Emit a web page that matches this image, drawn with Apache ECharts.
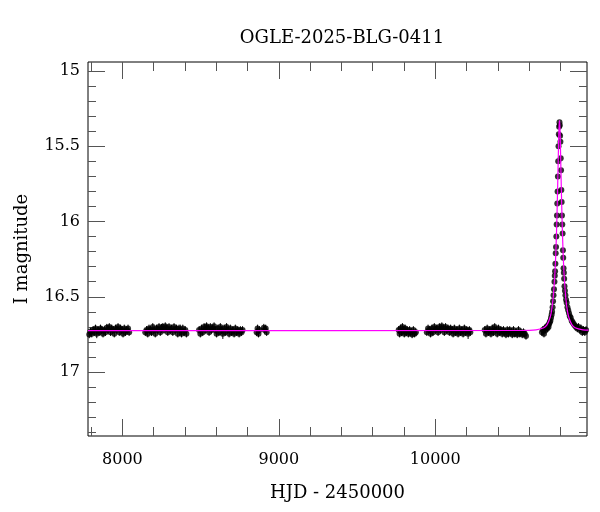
<!DOCTYPE html>
<html>
<head>
<meta charset="utf-8">
<script src="https://cdn.jsdelivr.net/npm/echarts@6/dist/echarts.min.js"></script>
<style>html,body{margin:0;padding:0;background:#fff}#c{width:600px;height:512px}</style>
</head>
<body>
<div id="c"></div>
<script>
// ---- data: [HJD-2450000, I mag, error] ----
const season1 = [[7788,16.75,.025],[7796,16.73,.025],[7804,16.745,.025],[7812,16.72,.025],[7820,16.735,.025],[7828,16.71,.025],[7836,16.745,.03],[7844,16.72,.025],[7852,16.735,.025],[7860,16.71,.025],[7868,16.72,.025],[7876,16.745,.025],[7884,16.72,.025],[7892,16.735,.025],[7900,16.705,.025],[7908,16.72,.025],[7916,16.70,.025],[7924,16.735,.025],[7932,16.71,.025],[7940,16.72,.025],[7948,16.745,.025],[7956,16.71,.025],[7964,16.72,.025],[7972,16.70,.025],[7980,16.735,.025],[7988,16.71,.025],[7996,16.72,.025],[8004,16.745,.025],[8012,16.71,.025],[8020,16.735,.025],[8028,16.72,.025],[8036,16.71,.025],[8043,16.735,.025]];
const season2 = [[8146,16.735,.025],[8154,16.72,.025],[8162,16.745,.025],[8170,16.71,.025],[8178,16.72,.025],[8186,16.735,.025],[8194,16.70,.025],[8202,16.72,.025],[8210,16.745,.025],[8218,16.71,.025],[8226,16.72,.025],[8234,16.70,.025],[8242,16.735,.025],[8250,16.71,.03],[8258,16.70,.025],[8266,16.72,.025],[8274,16.695,.025],[8282,16.71,.025],[8290,16.735,.025],[8298,16.70,.025],[8306,16.72,.025],[8314,16.71,.025],[8322,16.735,.025],[8330,16.70,.025],[8338,16.72,.025],[8346,16.71,.025],[8354,16.745,.025],[8362,16.71,.025],[8370,16.72,.035],[8378,16.745,.025],[8386,16.71,.025],[8394,16.735,.025],[8402,16.72,.025],[8409,16.745,.025]];
const season3 = [[8490,16.72,.025],[8498,16.745,.025],[8506,16.71,.025],[8514,16.735,.025],[8522,16.70,.025],[8530,16.72,.025],[8538,16.695,.025],[8546,16.71,.025],[8554,16.735,.025],[8562,16.70,.025],[8570,16.72,.025],[8578,16.71,.025],[8586,16.695,.025],[8594,16.72,.025],[8602,16.745,.025],[8610,16.71,.025],[8618,16.735,.025],[8626,16.70,.025],[8634,16.72,.025],[8642,16.745,.035],[8650,16.71,.025],[8658,16.735,.025],[8666,16.70,.025],[8674,16.72,.025],[8682,16.745,.025],[8690,16.71,.025],[8698,16.735,.025],[8706,16.72,.025],[8714,16.745,.025],[8722,16.71,.025],[8730,16.735,.025],[8738,16.72,.025],[8746,16.745,.025],[8754,16.72,.025],[8762,16.735,.025],[8768,16.72,.025]];
const season4 = [[8858,16.735,.025],[8864,16.71,.025],[8870,16.745,.025],[8876,16.72,.025],[8904,16.705,.025],[8910,16.72,.025],[8916,16.71,.025],[8922,16.735,.025]];
const season5 = [[9766,16.72,.025],[9772,16.745,.025],[9778,16.71,.025],[9784,16.735,.025],[9790,16.70,.025],[9796,16.72,.025],[9802,16.745,.025],[9808,16.71,.025],[9814,16.735,.025],[9820,16.72,.025],[9828,16.745,.025],[9836,16.72,.025],[9844,16.735,.025],[9852,16.75,.025],[9860,16.72,.025],[9868,16.745,.025],[9876,16.735,.025]];
const season6 = [[9946,16.735,.025],[9954,16.71,.025],[9962,16.72,.025],[9970,16.745,.025],[9978,16.71,.025],[9986,16.735,.025],[9994,16.70,.025],[10002,16.72,.025],[10010,16.71,.025],[10018,16.735,.025],[10026,16.70,.025],[10034,16.72,.025],[10042,16.695,.025],[10050,16.71,.025],[10058,16.735,.025],[10066,16.70,.025],[10074,16.72,.025],[10082,16.71,.025],[10090,16.735,.025],[10098,16.71,.025],[10106,16.72,.025],[10114,16.745,.025],[10122,16.71,.025],[10130,16.735,.025],[10138,16.72,.025],[10146,16.745,.025],[10154,16.71,.025],[10162,16.735,.025],[10170,16.72,.025],[10178,16.745,.025],[10186,16.71,.025],[10194,16.735,.025],[10202,16.72,.025],[10210,16.745,.035],[10218,16.72,.025],[10224,16.735,.025]];
const season7 = [[10316,16.72,.025],[10324,16.745,.025],[10332,16.71,.025],[10340,16.735,.025],[10348,16.72,.025],[10356,16.745,.025],[10364,16.71,.025],[10372,16.735,.025],[10380,16.70,.025],[10388,16.72,.025],[10396,16.745,.025],[10404,16.71,.025],[10412,16.735,.025],[10420,16.72,.025],[10428,16.745,.025],[10436,16.72,.025],[10444,16.735,.025],[10452,16.75,.025],[10460,16.72,.025],[10468,16.745,.025],[10476,16.72,.025],[10484,16.735,.025],[10492,16.75,.025],[10500,16.72,.025],[10508,16.745,.025],[10516,16.735,.025],[10524,16.75,.025],[10532,16.72,.025],[10540,16.745,.025],[10548,16.735,.025],[10556,16.75,.025],[10564,16.735,.025],[10572,16.745,.025],[10580,16.76,.025]];
const season8 = [[10682,16.735,.025],[10688,16.72,.025],[10695,16.745,.025],[10700,16.71,.025],[10706,16.72,.025],[10712,16.70,.025],[10716,16.71,.025],[10720,16.69,.02],[10724,16.70,.02],[10728,16.68,.02],[10732,16.67,.02],[10736,16.66,.02],[10740,16.64,.015],[10744,16.62,.015],[10747,16.60,.015],[10750,16.57,.015],[10753,16.53,.015],[10756,16.49,.015],[10759,16.45,.015],[10762,16.40,.015],[10764,16.36,.015],[10766,16.33,.015],[10768,16.28,.012],[10770,16.21,.012],[10772,16.17,.012],[10774,16.10,.012],[10776,16.02,.012],[10778,15.96,.012],[10780,15.88,.012],[10782,15.80,.01],[10784,15.70,.01],[10786,15.60,.01],[10788,15.50,.01],[10790,15.42,.01],[10792,15.37,.01],[10794,15.34,.01],[10796,15.36,.01],[10798,15.43,.01],[10800,15.47,.01],[10802,15.58,.01],[10804,15.66,.01],[10806,15.79,.01],[10808,15.87,.012],[10810,15.96,.012],[10812,16.02,.012],[10814,16.08,.012],[10816,16.19,.012],[10818,16.24,.012],[10820,16.31,.012],[10822,16.34,.015],[10824,16.38,.015],[10826,16.43,.015],[10829,16.46,.015],[10832,16.49,.015],[10836,16.52,.015],[10840,16.54,.015],[10845,16.57,.015],[10850,16.59,.015],[10855,16.61,.015],[10860,16.63,.015],[10866,16.64,.02],[10872,16.66,.02],[10878,16.67,.02],[10885,16.68,.02],[10892,16.69,.02],[10900,16.70,.02],[10908,16.71,.025],[10916,16.70,.025],[10924,16.72,.025],[10932,16.71,.025],[10940,16.735,.025],[10948,16.72,.025],[10956,16.735,.025],[10964,16.72,.025]];
// model light curve
const modelT = [7780,10544,10644,10694,10714,10734,10744,10754,10764,10769,10774,10778,10781,10784,10786,10788,10790,10792,10794,10796,10798,10800,10802,10804,10807,10810,10814,10819,10824,10834,10844,10854,10874,10894,10944,10980];
const modelMag = [16.725,16.724,16.72,16.706,16.687,16.638,16.589,16.505,16.36,16.253,16.107,15.963,15.834,15.691,15.591,15.494,15.41,15.352,15.33,15.352,15.41,15.494,15.591,15.691,15.834,15.963,16.107,16.253,16.36,16.505,16.589,16.638,16.687,16.706,16.72,16.722];
// axis ticks
const xMajor = [8000,9000,10000];
const xMinor = [7800,8200,8400,8600,8800,9200,9400,9600,9800,10200,10400,10600,10800];
const yMajor = [15,15.5,16,16.5,17];
const yMinor = [15.1,15.2,15.3,15.4,15.6,15.7,15.8,15.9,16.1,16.2,16.3,16.4,16.6,16.7,16.8,16.9,17.1,17.2,17.3,17.4];

const X_MIN = 7780, X_MAX = 10970, Y_MIN = 14.94, Y_MAX = 17.425;
const FONT = 'DejaVu Serif';

const points = [].concat(season1, season2, season3, season4, season5, season6, season7, season8);
const model = modelT.map((t, i) => [t, modelMag[i]]);

function xAx(pos, ticks, len, labels, extra) {
  return Object.assign({
    type: 'value', position: pos, min: X_MIN, max: X_MAX, gridIndex: 0,
    axisLine: {show: false},
    splitLine: {show: false},
    axisTick: {show: true, inside: true, length: len, customValues: ticks, lineStyle: {color: '#555', width: 1}},
    axisLabel: labels ? {show: true, customValues: ticks, margin: 16, color: '#000', fontFamily: FONT, fontSize: 16,
      formatter: v => String(v)} : {show: false}
  }, extra || {});
}
function yAx(pos, ticks, len, labels, extra) {
  return Object.assign({
    type: 'value', position: pos, min: Y_MIN, max: Y_MAX, inverse: true, gridIndex: 0,
    axisLine: {show: false},
    splitLine: {show: false},
    axisTick: {show: true, inside: true, length: len, customValues: ticks, lineStyle: {color: '#555', width: 1}},
    axisLabel: labels ? {show: true, customValues: ticks, margin: 8, color: '#000', fontFamily: FONT, fontSize: 16,
      formatter: v => String(v)} : {show: false}
  }, extra || {});
}

const chart = echarts.init(document.getElementById('c'), null, {renderer: 'canvas'});
chart.setOption({
  animation: false,
  backgroundColor: '#fff',
  title: {text: 'OGLE-2025-BLG-0411', left: 337, top: 24, textAlign: 'center',
    textStyle: {fontFamily: FONT, fontSize: 18, fontWeight: 'normal', color: '#000'}},
  grid: {left: 88, right: 13, top: 62, bottom: 76, show: true, borderColor: '#000', borderWidth: 1, backgroundColor: 'transparent'},
  xAxis: [
    xAx('bottom', xMajor, 17, true, {name: 'HJD - 2450000', nameLocation: 'middle', nameGap: 48,
      nameTextStyle: {fontFamily: FONT, fontSize: 18, color: '#000'}}),
    xAx('bottom', xMinor, 9, false),
    xAx('top', xMajor, 17, false),
    xAx('top', xMinor, 9, false)
  ],
  yAxis: [
    yAx('left', yMajor, 17, true, {name: 'I magnitude', nameLocation: 'middle', nameGap: 57,
      nameTextStyle: {fontFamily: FONT, fontSize: 18, color: '#000'}}),
    yAx('left', yMinor, 8, false),
    yAx('right', yMajor, 17, false),
    yAx('right', yMinor, 8, false)
  ],
  series: [
    {
      type: 'custom', xAxisIndex: 0, yAxisIndex: 0, data: points, clip: true, z: 2,
      renderItem: function (params, api) {
        const t = api.value(0), m = api.value(1), e = api.value(2);
        const p1 = api.coord([t, m - e]);
        const p2 = api.coord([t, m + e]);
        return {type: 'line', shape: {x1: p1[0], y1: p1[1], x2: p2[0], y2: p2[1]},
          style: {stroke: '#000', lineWidth: 1}};
      },
      encode: {x: 0, y: 1}
    },
    {
      type: 'scatter', xAxisIndex: 0, yAxisIndex: 0, data: points.map(p => [p[0], p[1]]),
      symbol: 'circle', symbolSize: 6, itemStyle: {color: '#000'}, z: 3, clip: true
    },
    {
      type: 'line', xAxisIndex: 0, yAxisIndex: 0, data: model, showSymbol: false, smooth: 0.3,
      lineStyle: {color: '#ff00ff', width: 1.2}, z: 4, clip: true
    }
  ]
});
</script>
</body>
</html>
